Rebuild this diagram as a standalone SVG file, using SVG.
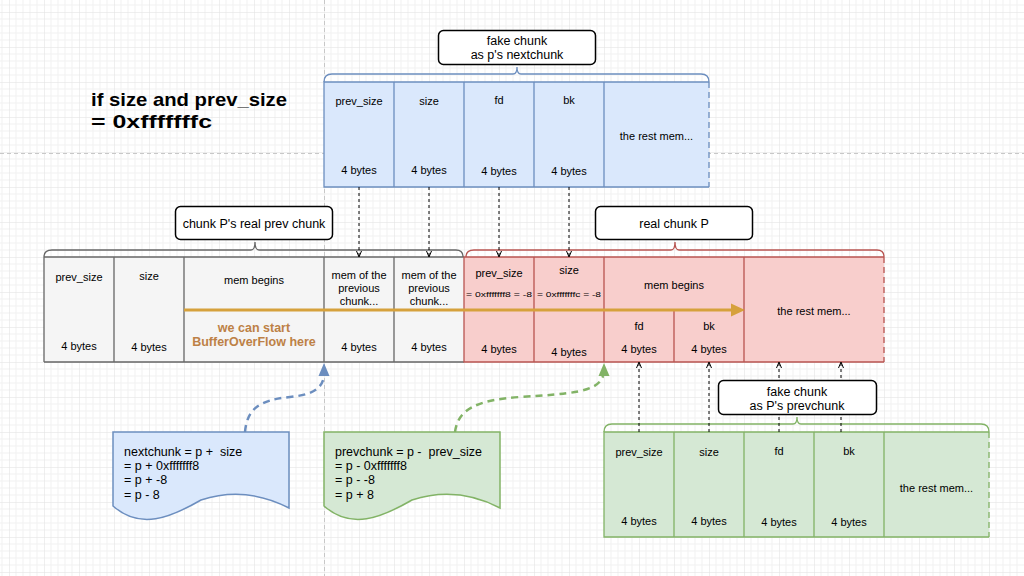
<svg xmlns="http://www.w3.org/2000/svg" width="1024" height="576" viewBox="0 0 1024 576">
<style>
text{font-family:"Liberation Sans","Noto Sans",sans-serif;fill:#000;}
.c{font-size:11px;text-anchor:middle;}
.s{font-size:7.5px;text-anchor:middle;}
.co{font-size:12.5px;text-anchor:middle;}
.n{font-size:12.5px;white-space:pre;}
.t{font-size:19px;font-weight:bold;}
.ov{font-size:12.5px;font-weight:bold;text-anchor:middle;fill:#bd8146;}
.blue{fill:#dae8fc;}
.bl{stroke:#6c8ebf;stroke-width:1.3;fill:none;}
.grey{fill:#f5f5f5;}
.gl{stroke:#666666;stroke-width:1.3;fill:none;}
.red{fill:#f8cecc;}
.rl{stroke:#b85450;stroke-width:1.3;fill:none;}
.green{fill:#d5e8d4;}
.grl{stroke:#82b366;stroke-width:1.3;fill:none;}
.dash{stroke-dasharray:6 4;}
.call{fill:#fff;stroke:#000;stroke-width:1.5;}
.conn{stroke:#000;stroke-width:1;stroke-dasharray:3 3;fill:none;}
.ah{stroke:#000;stroke-width:1;fill:none;}
.pb{stroke:#c8c8c8;stroke-width:1;stroke-dasharray:4 3;fill:none;}
</style>
<defs>
<pattern id="grid" width="35" height="35" patternUnits="userSpaceOnUse" x="9" y="12">
<path d="M7,0V35M14,0V35M21,0V35M28,0V35M0,7H35M0,14H35M0,21H35M0,28H35" stroke="#f1f1f1" stroke-width="1" fill="none"/>
<path d="M0,0V35M0,0H35" stroke="#e0e0e0" stroke-width="1" fill="none"/>
</pattern>
</defs>
<rect width="1024" height="576" fill="#ffffff"/>
<rect width="1024" height="576" fill="url(#grid)"/>
<path class="pb" d="M324.5,0V576M0,153.5H1024"/>

<g id="title">
<text class="t" x="91" y="106" textLength="196" lengthAdjust="spacingAndGlyphs">if size and prev_size</text>
<text class="t" x="91" y="128" textLength="121" lengthAdjust="spacingAndGlyphs">= 0xfffffffc</text>
</g>

<g id="fake-next-chunk">
<rect class="blue" x="324" y="82" width="385" height="105"/>
<path class="bl" d="M709,82H324V187H709M394,82V187M464,82V187M534,82V187M604,82V187"/>
<path class="bl dash" d="M709,82V187"/>
<path class="bl" d="M324,82Q324,74 332,74H513Q517,74 517,67Q517,74 521,74H701Q709,74 709,82"/>
<text class="c" x="359" y="105">prev_size</text>
<text class="c" x="429" y="105">size</text>
<text class="c" x="499" y="104">fd</text>
<text class="c" x="569" y="104">bk</text>
<text class="c" x="656.5" y="140">the rest mem...</text>
<text class="c" x="359" y="174">4 bytes</text>
<text class="c" x="429" y="174">4 bytes</text>
<text class="c" x="499" y="175">4 bytes</text>
<text class="c" x="569" y="175">4 bytes</text>
</g>
<g id="callout-next">
<rect class="call" x="438.5" y="30.5" width="157" height="34" rx="5"/>
<text class="co" x="517" y="44.5">fake chunk</text>
<text class="co" x="517" y="59">as p's nextchunk</text>
</g>

<g id="real-prev-chunk">
<rect class="grey" x="44" y="257" width="420" height="105"/>
<path class="gl" d="M44,257H464M44,362H464M44,257V362M114,257V362M184,257V362M324,257V362M394,257V362"/>
<path class="gl" d="M44,257Q44,250 52,250H251Q255,250 255,242Q255,250 259,250H456Q463,250 463,257"/>
<text class="c" x="79" y="281">prev_size</text>
<text class="c" x="149" y="280">size</text>
<text class="c" x="254" y="284">mem begins</text>
<text class="c" x="359" y="279">mem of the</text>
<text class="c" x="359" y="292">previous</text>
<text class="c" x="359" y="305">chunk...</text>
<text class="c" x="429" y="279">mem of the</text>
<text class="c" x="429" y="292">previous</text>
<text class="c" x="429" y="305">chunk...</text>
<text class="c" x="79" y="350">4 bytes</text>
<text class="c" x="149" y="351">4 bytes</text>
<text class="c" x="359" y="351">4 bytes</text>
<text class="c" x="429" y="351">4 bytes</text>
<text class="ov" x="254" y="332">we can start</text>
<text class="ov" x="254" y="346">BufferOverFlow here</text>
</g>
<g id="callout-prev">
<rect class="call" x="175.5" y="206.5" width="157" height="33" rx="5"/>
<text class="co" x="254" y="228">chunk P's real prev chunk</text>
</g>

<g id="real-chunk-p">
<rect class="red" x="464" y="257" width="420" height="105"/>
<path class="rl" d="M884,257H464V362H884M534,257V362M604,257V362M744,257V362M604,310H744M674,310V362"/>
<path class="rl dash" d="M884,257V362"/>
<path class="rl" d="M466,257Q466,250 474,250H671Q675,250 675,242Q675,250 679,250H877Q884,250 884,257"/>
<text class="c" x="499" y="277">prev_size</text>
<text class="s" x="499" y="297" textLength="66" lengthAdjust="spacingAndGlyphs">= 0xfffffff8 = -8</text>
<text class="c" x="569" y="274">size</text>
<text class="s" x="569" y="297" textLength="64" lengthAdjust="spacingAndGlyphs">= 0xfffffffc = -8</text>
<text class="c" x="674" y="289">mem begins</text>
<text class="c" x="639" y="329.5">fd</text>
<text class="c" x="709" y="329.5">bk</text>
<text class="c" x="814" y="315">the rest mem...</text>
<text class="c" x="499" y="353">4 bytes</text>
<text class="c" x="569" y="356">4 bytes</text>
<text class="c" x="639" y="353">4 bytes</text>
<text class="c" x="709" y="353">4 bytes</text>
</g>
<g id="callout-p">
<rect class="call" x="595.5" y="206.5" width="157" height="33" rx="5"/>
<text class="co" x="674" y="228">real chunk P</text>
</g>

<g id="fake-prev-chunk">
<rect class="green" x="604" y="432" width="385" height="105"/>
<path class="grl" d="M989,432H604V537H989M674,432V537M744,432V537M814,432V537M884,432V537"/>
<path class="grl dash" d="M989,432V537"/>
<path class="grl" d="M604,432Q604,424 612,424H793Q797,424 797,417Q797,424 801,424H981Q989,424 989,432"/>
<text class="c" x="639" y="455.5">prev_size</text>
<text class="c" x="709" y="455.5">size</text>
<text class="c" x="779" y="454.5">fd</text>
<text class="c" x="849" y="454.5">bk</text>
<text class="c" x="936.5" y="491.5">the rest mem...</text>
<text class="c" x="639" y="525">4 bytes</text>
<text class="c" x="709" y="525">4 bytes</text>
<text class="c" x="779" y="526">4 bytes</text>
<text class="c" x="849" y="526">4 bytes</text>
</g>

<g id="connectors">
<path class="conn" d="M359,187V257M429,187V257M499,187V257M569,187V257"/>
<path class="ah" d="M356.5,251L359,257L361.5,251M426.5,251L429,257L431.5,251M496.5,251L499,257L501.5,251M566.5,251L569,257L571.5,251"/>
<path class="conn" d="M639,432V362M709,432V362M779,432V362M841,432V362"/>
<path class="ah" d="M636.5,368L639,362L641.5,368M706.5,368L709,362L711.5,368M776.5,368L779,362L781.5,368M838.5,368L841,362L843.5,368"/>
<path d="M184,310H733" stroke="#d6a13c" stroke-width="3" fill="none"/>
<path d="M731,303.5L745,310L731,316.5Z" fill="#d6a13c"/>
<path d="M245,432C247,410 258,400 290,397C310,395 322,390 324,376" stroke="#6c8ebf" stroke-width="2.5" stroke-dasharray="7 5" fill="none"/>
<path d="M324,363L329.5,376L318.5,376Z" fill="#6c8ebf"/>
<path d="M455,432C458,410 475,400 520,397C570,394 598,392 603,376" stroke="#82b366" stroke-width="2.5" stroke-dasharray="7 5" fill="none"/>
<path d="M604,363L609.5,376L598.5,376Z" fill="#82b366"/>
</g>

<g id="callout-fake-prev">
<rect class="call" x="718.5" y="380.5" width="158" height="34" rx="5"/>
<text class="co" x="797" y="395.5">fake chunk</text>
<text class="co" x="797" y="409.5">as P's prevchunk</text>
</g>

<g id="note-nextchunk">
<path d="M113,432H289V508C262,494 232,490 201,500C170,518 140,530 113,506Z" fill="#dae8fc" stroke="#6c8ebf" stroke-width="1.5"/>
<text class="n" x="124" y="456">nextchunk = p +  size</text>
<text class="n" x="124" y="470.2">= p + 0xfffffff8</text>
<text class="n" x="124" y="484.4">= p + -8</text>
<text class="n" x="124" y="498.6">= p - 8</text>
</g>
<g id="note-prevchunk">
<path d="M324,432H500V508C473,494 443,490 412,500C381,518 351,530 324,506Z" fill="#d5e8d4" stroke="#82b366" stroke-width="1.5"/>
<text class="n" x="335" y="456">prevchunk = p -  prev_size</text>
<text class="n" x="335" y="470.2">= p - 0xfffffff8</text>
<text class="n" x="335" y="484.4">= p - -8</text>
<text class="n" x="335" y="498.6">= p + 8</text>
</g>
</svg>
